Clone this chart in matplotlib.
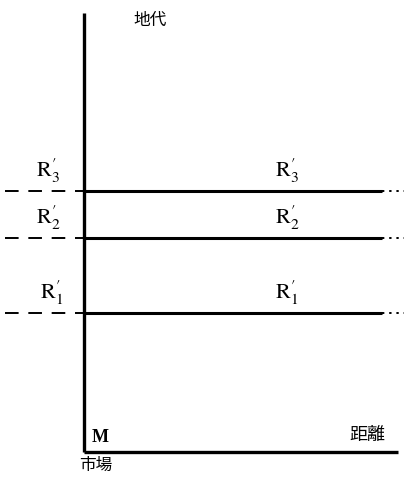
import matplotlib.pyplot as plt

plt.rcParams['font.family'] = ['Noto Sans CJK JP', 'DejaVu Sans']
plt.rcParams['mathtext.fontset'] = 'stix'

# 地代水準 (R1', R2', R3') と距離の範囲
rent_levels = [13.9, 21.4, 26.1]
rent_labels = [r"$\mathrm{R}_{1}^{\prime}$", r"$\mathrm{R}_{2}^{\prime}$",
               r"$\mathrm{R}_{3}^{\prime}$"]
label_x_left = [-3.2, -3.6, -3.6]
solid_end = 29.8
dotted_end = 32.0
dashed_start = -7.9
axis_top = 43.9
axis_right = 31.4

fig = plt.figure(figsize=(4.04, 4.79), dpi=100)
ax = fig.add_axes([0, 0, 1, 1])
ax.set_xlim(-8.4, 32.0)
ax.set_ylim(-2.7, 45.2)
ax.axis('off')

# 軸
ax.plot([0, 0], [0, axis_top], color='black', lw=2.4, solid_capstyle='butt')
ax.plot([0, axis_right], [0, 0], color='black', lw=2.4, solid_capstyle='butt')

for r, lab, lx in zip(rent_levels, rent_labels, label_x_left):
    ax.plot([0, solid_end], [r, r], color='black', lw=2.2, solid_capstyle='butt')
    ax.plot([dashed_start, 0], [r, r], color='black', lw=1.4,
            dashes=(7, 5))
    ax.plot([solid_end, dotted_end], [r, r], color='black', lw=1.4,
            dashes=(1.2, 2.5))
    ax.text(lx, r + 0.6, lab, fontsize=16, ha='center', va='bottom')
    ax.text(20.3, r + 0.6, lab, fontsize=16, ha='center', va='bottom')

ax.text(4.9, 43.2, '地代', fontsize=12, ha='left', va='center')
ax.text(1.6, 1.4, 'M', fontsize=13, ha='center', va='center',
        family='Liberation Serif', fontweight='bold')
ax.text(1.2, -1.3, '市場', fontsize=12, ha='center', va='center')
ax.text(28.3, 1.7, '距離', fontsize=13, ha='center', va='center')

fig.savefig('out.png', dpi=100)
